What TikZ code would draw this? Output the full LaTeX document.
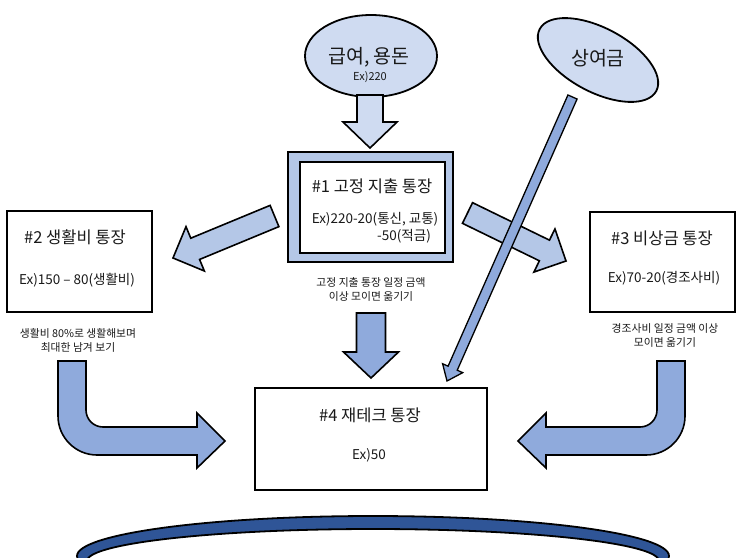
\documentclass[tikz,border=0pt]{standalone}
\usepackage{fontspec}
\setmainfont{Noto Sans CJK KR}
\usetikzlibrary{calc,shapes.geometric}
\definecolor{ellfill}{RGB}{207,219,241}
\definecolor{framefill}{RGB}{180,199,231}
\definecolor{midblue}{RGB}{143,170,220}
\definecolor{darkblue}{RGB}{47,85,151}
\definecolor{txt}{RGB}{25,25,25}
\newcommand{\blockarrow}[6]{%
  \coordinate (ba-c) at ($(#3)!#6!(#2)$);
  \draw[#1] ($(#2)!#4!90:(#3)$) -- ($(ba-c)!#4!90:(#3)$) -- ($(ba-c)!#5!90:(#3)$) -- (#3)
    -- ($(ba-c)!#5!-90:(#3)$) -- ($(ba-c)!#4!-90:(#3)$) -- ($(#2)!#4!-90:(#3)$) -- cycle;}
\tikzset{
  acct/.style={rectangle, draw=black, line width=1.8pt, fill=white, inner sep=0pt},
  ttl/.style={font=\fontsize{16.5}{19}\selectfont, text=txt, inner sep=0pt},
  sub/.style={font=\fontsize{13.5}{16}\selectfont, text=txt, inner sep=0pt},
  capt/.style={font=\fontsize{10.8}{14}\selectfont, text=txt, align=center, inner sep=0pt},
  big/.style={font=\fontsize{19.5}{22}\selectfont, text=txt, inner sep=0pt},
  oval/.style={ellipse, draw=black, line width=1.8pt, fill=ellfill, inner sep=0pt},
  barrow/.style={draw=black, line width=1.6pt, line join=miter},
}
\begin{document}
\begin{tikzpicture}[x=1pt,y=-1pt]
\useasboundingbox (0,0) rectangle (743,557);
\fill[white] (0,0) rectangle (743,557);

% source ovals
\node[oval, minimum width=132pt, minimum height=82pt] (pay) at (371,56) {};
\node[big] (payt) at (369,57) {급여, 용돈};
\node[font=\fontsize{11}{13}\selectfont, text=txt, inner sep=0pt] (payex) at (370,77) {Ex)220};

\node[oval, minimum width=132pt, minimum height=64pt, rotate=-28] (bonus) at (598,60) {};
\node[big] (bonust) at (598,58) {상여금};

% box 1
\node[acct, fill=framefill, minimum width=165pt, minimum height=110pt] (b1o) at (370.5,207) {};
\node[acct, minimum width=145pt, minimum height=91pt] (b1i) at (372.5,207.5) {};
\node[ttl] (b1t) at (372,186) {\#1 고정 지출 통장};
\node[sub] (b1a) at (375,219) {Ex)220-20(통신, 교통)};
\node[sub] (b1b) at (404,236) {-50(적금)};
\node[capt] (b1c) at (371,289.5) {고정 지출 통장 일정 금액\\이상 모이면 옮기기};

% box 2
\node[acct, minimum width=145pt, minimum height=101pt] (b2) at (79.5,261.5) {};
\node[ttl] (b2t) at (75,237) {\#2 생활비 통장};
\node[sub] (b2a) at (77,280) {Ex)150 – 80(생활비)};
\node[capt] (b2c) at (78,340.5) {생활비 80\%로 생활해보며\\최대한 남겨 보기};

% box 3
\node[acct, minimum width=145pt, minimum height=100pt] (b3) at (662.5,262) {};
\node[ttl] (b3t) at (662,238) {\#3 비상금 통장};
\node[sub] (b3a) at (664,278) {Ex)70-20(경조사비)};
\node[capt] (b3c) at (665,335) {경조사비 일정 금액 이상\\모이면 옮기기};

% box 4
\node[acct, minimum width=232pt, minimum height=102pt] (b4) at (371,439) {};
\node[ttl] (b4t) at (370,415) {\#4 재테크 통장};
\node[sub] (b4a) at (369,455) {Ex)50};

% arrow anchor points
\coordinate (a1s) at (370,95);   \coordinate (a1e) at (370,148);
\coordinate (a2s) at (274.5,216); \coordinate (a2e) at (173,258);
\coordinate (a3s) at (467.5,213); \coordinate (a3e) at (566,261);
\coordinate (a4s) at (371,313);  \coordinate (a4e) at (371,378);
\coordinate (a5s) at (572.5,97);   \coordinate (a5e) at (447,381);

\blockarrow{barrow, fill=ellfill}{a1s}{a1e}{13pt}{27pt}{26pt}
\blockarrow{barrow, fill=framefill}{a2s}{a2e}{11.5pt}{24pt}{24pt}
\blockarrow{barrow, fill=framefill}{a3s}{a3e}{11.5pt}{24pt}{24pt}
\blockarrow{barrow, fill=midblue}{a4s}{a4e}{14.5pt}{27.5pt}{26pt}
\blockarrow{barrow, fill=midblue, line width=1.3pt}{a5s}{a5e}{5pt}{11pt}{14pt}

% bent arrows
\draw[barrow, fill=midblue] (58,361) -- (58,416) .. controls (58,437.5) and (75.5,455) .. (97,455)
  -- (197,455) -- (197,468) -- (225,441) -- (197,413) -- (197,427) -- (103,427)
  .. controls (93.6,427) and (86,419.4) .. (86,410) -- (86,361) -- cycle;
\draw[barrow, fill=midblue] (685,361) -- (685,416) .. controls (685,437.5) and (667.5,455) .. (646,455)
  -- (546,455) -- (546,468) -- (518,441) -- (546,413) -- (546,427) -- (640,427)
  .. controls (649.4,427) and (657,419.4) .. (657,410) -- (657,361) -- cycle;

% bottom banner
\begin{scope}
\clip (0,0) rectangle (743,557);
\node[ellipse, draw=black, line width=1.8pt, fill=darkblue, minimum width=592pt, minimum height=80pt, inner sep=0pt] (ban) at (373,556) {};
\node[ellipse, draw=black, line width=1.8pt, fill=white, minimum width=572pt, minimum height=64pt, inner sep=0pt] (banin) at (373,561) {};
\end{scope}
\end{tikzpicture}
\end{document}
